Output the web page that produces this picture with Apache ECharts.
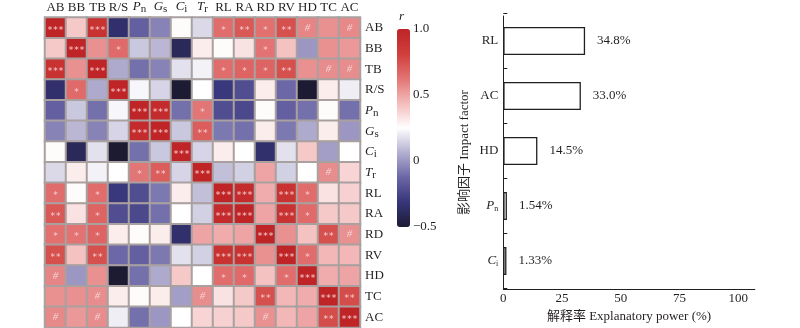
<!DOCTYPE html>
<html>
<head>
<meta charset="utf-8">
<script src="https://cdn.jsdelivr.net/npm/echarts@6/dist/echarts.min.js"></script>
<style>
  html, body { margin: 0; padding: 0; background: #fff; }
  #chart { width: 800px; height: 328px; }
</style>
</head>
<body>
<div id="chart"></div>
<script>
// Trait names (rows and columns of the correlation matrix)
const factors = ['AB', 'BB', 'TB', 'R/S', 'Pn', 'Gs', 'Ci', 'Tr', 'RL', 'RA', 'RD', 'RV', 'HD', 'TC', 'AC'];

// Pearson r between traits, row by row in the order of `factors`
const corr = [
  [ 1.00,  0.40,  0.90, -0.35, -0.15, -0.05,  0.26,  0.16,  0.65,  0.72,  0.64,  0.75,  0.58,  0.55,  0.57],
  [ 0.40,  1.00,  0.55,  0.66,  0.12,  0.08, -0.40,  0.30,  0.26,  0.33,  0.63,  0.42,  0.00,  0.55,  0.53],
  [ 0.90,  0.55,  1.00,  0.05, -0.10, -0.05,  0.18,  0.22,  0.65,  0.68,  0.68,  0.75,  0.55,  0.56,  0.56],
  [-0.35,  0.66,  0.05,  1.00,  0.23,  0.15, -0.50,  0.25, -0.30, -0.22,  0.30, -0.12, -0.50,  0.30,  0.21],
  [-0.15,  0.12, -0.10,  0.23,  1.00,  0.95, -0.10,  0.62, -0.22, -0.24,  0.26, -0.15, -0.10,  0.26, -0.10],
  [-0.05,  0.08, -0.05,  0.15,  0.95,  1.00,  0.12,  0.70, -0.08, -0.10,  0.30, -0.08,  0.05,  0.30,  0.00],
  [ 0.26, -0.40,  0.18, -0.50, -0.10,  0.12,  1.00,  0.15,  0.30,  0.25, -0.35,  0.18,  0.40,  0.02,  0.25],
  [ 0.16,  0.30,  0.22,  0.25,  0.62,  0.70,  0.15,  1.00,  0.10,  0.14,  0.50,  0.14,  0.25,  0.56,  0.37],
  [ 0.65,  0.26,  0.65, -0.30, -0.22, -0.08,  0.30,  0.10,  1.00,  0.95,  0.48,  0.90,  0.65,  0.33,  0.38],
  [ 0.72,  0.33,  0.68, -0.22, -0.24, -0.10,  0.25,  0.14,  0.95,  1.00,  0.50,  0.90,  0.66,  0.40,  0.40],
  [ 0.64,  0.63,  0.68,  0.30,  0.26,  0.30, -0.35,  0.50,  0.48,  0.50,  1.00,  0.55,  0.42,  0.75,  0.55],
  [ 0.75,  0.42,  0.75, -0.12, -0.15, -0.08,  0.18,  0.14,  0.90,  0.90,  0.55,  1.00,  0.65,  0.45,  0.45],
  [ 0.58,  0.00,  0.55, -0.50, -0.10,  0.05,  0.40,  0.25,  0.65,  0.66,  0.42,  0.65,  1.00,  0.48,  0.50],
  [ 0.55,  0.55,  0.56,  0.30,  0.26,  0.30,  0.02,  0.56,  0.33,  0.40,  0.75,  0.45,  0.48,  1.00,  0.76],
  [ 0.57,  0.53,  0.56,  0.21, -0.10,  0.00,  0.25,  0.37,  0.38,  0.40,  0.55,  0.45,  0.50,  0.76,  1.00]
];

// Significance marks for each cell (same layout as `corr`)
const sig = [
  ['***', '', '***', '', '', '', '', '', '*', '**', '*', '**', '#', '', '#'],
  ['', '***', '', '*', '', '', '', '', '', '', '*', '', '', '', ''],
  ['***', '', '***', '', '', '', '', '', '*', '*', '*', '**', '', '#', '#'],
  ['', '*', '', '***', '', '', '', '', '', '', '', '', '', '', ''],
  ['', '', '', '', '***', '***', '', '*', '', '', '', '', '', '', ''],
  ['', '', '', '', '***', '***', '', '**', '', '', '', '', '', '', ''],
  ['', '', '', '', '', '', '***', '', '', '', '', '', '', '', ''],
  ['', '', '', '', '*', '**', '', '***', '', '', '', '', '', '#', ''],
  ['*', '', '*', '', '', '', '', '', '***', '***', '', '***', '*', '', ''],
  ['**', '', '*', '', '', '', '', '', '***', '***', '', '***', '*', '', ''],
  ['*', '*', '*', '', '', '', '', '', '', '', '***', '', '', '**', '#'],
  ['**', '', '**', '', '', '', '', '', '***', '***', '', '***', '*', '', ''],
  ['#', '', '', '', '', '', '', '', '*', '*', '', '*', '***', '', ''],
  ['', '', '#', '', '', '', '', '#', '', '', '**', '', '', '***', '**'],
  ['#', '', '#', '', '', '', '', '', '', '', '#', '', '', '**', '***']
];

// Explanatory power of the leading impact factors (%)
const impactFactors = ['RL', 'AC', 'HD', 'Pn', 'Ci'];
const explanatoryPower = [34.8, 33.0, 14.5, 1.54, 1.33];

// Axis ranges and ticks
const powerTicks = [0, 25, 50, 75, 100];
const colorbarTicks = [-0.5, 0, 0.5, 1.0];

const SERIF = "'Liberation Serif', 'Times New Roman', 'Noto Sans CJK SC', serif";
const INK = '#231f20';

// Names with a subscript are written as italic letter + small roman letter
const subscripted = { Pn: ['P', 'n'], Gs: ['G', 's'], Ci: ['C', 'i'], Tr: ['T', 'r'] };
function richName(name) {
  const s = subscripted[name];
  return s ? '{it|' + s[0] + '}{sub|' + s[1] + '}' : name;
}
function nameRich(size, subSize, drop) {
  return {
    it: { fontFamily: SERIF, fontStyle: 'italic', fontSize: size, color: INK },
    sub: { fontFamily: SERIF, fontSize: subSize, color: INK, padding: [drop, 0, 0, 0] }
  };
}

const heatData = [];
corr.forEach((row, r) => row.forEach((v, c) => heatData.push([c, r, v])));

const chart = echarts.init(document.getElementById('chart'), null, { renderer: 'canvas' });

chart.setOption({
  animation: false,
  backgroundColor: '#fff',
  title: {
    text: 'r',
    left: 399, top: 10, padding: 0,
    textStyle: { fontFamily: SERIF, fontStyle: 'italic', fontWeight: 'normal', fontSize: 13, color: INK }
  },
  grid: [
    // correlation heatmap
    { left: 45, top: 16.5, width: 315, height: 311 },
    // bars
    { left: 503.3, right: 45.2, top: 13.5, height: 275 },
    // visible frame of the bar panel
    { left: 503.3, right: 45.2, top: 16, bottom: 33 },
    // colour bar scale
    { left: 397, top: 29, width: 13, height: 198 }
  ],
  xAxis: [
    {
      gridIndex: 0, type: 'category', data: factors, position: 'top',
      axisLine: { show: false }, axisTick: { show: false }, splitLine: { show: false },
      axisLabel: {
        margin: 3, interval: 0, fontFamily: SERIF, fontSize: 13, color: INK,
        formatter: richName, rich: nameRich(13, 11, 5)
      }
    },
    {
      gridIndex: 1, type: 'value', min: 0, max: 107, show: false
    },
    {
      gridIndex: 2, type: 'value', min: 0, max: 107, interval: 25,
      axisLine: { show: true, lineStyle: { color: INK, width: 1 } },
      axisTick: { show: false },
      splitLine: { show: false },
      axisLabel: {
        margin: 3, fontFamily: SERIF, fontSize: 13, color: INK, showMaxLabel: false,
        formatter: v => (powerTicks.includes(v) ? String(v) : '')
      },
      name: '解释率 Explanatory power (%)',
      nameLocation: 'middle', nameGap: 20,
      nameTextStyle: { fontFamily: SERIF, fontSize: 13, color: INK }
    },
    {
      gridIndex: 3, type: 'value', min: 0, max: 1, show: false
    }
  ],
  yAxis: [
    {
      gridIndex: 0, type: 'category', data: factors, inverse: true, position: 'right',
      axisLine: { show: false }, axisTick: { show: false }, splitLine: { show: false },
      axisLabel: {
        margin: 5, interval: 0, fontFamily: SERIF, fontSize: 13, color: INK,
        formatter: richName, rich: nameRich(13, 11, 5)
      }
    },
    {
      gridIndex: 1, type: 'category', data: impactFactors, inverse: true,
      axisLine: { show: false },
      axisTick: { show: true, inside: true, length: 4, lineStyle: { color: INK } },
      splitLine: { show: false },
      axisLabel: {
        margin: 5, fontFamily: SERIF, fontSize: 13, color: INK,
        formatter: richName, rich: nameRich(13, 8, 6)
      }
    },
    {
      gridIndex: 2, type: 'value', min: 0, max: 1,
      axisLine: { show: true, lineStyle: { color: INK, width: 1 } },
      axisTick: { show: false }, axisLabel: { show: false }, splitLine: { show: false },
      name: '影响因子 Impact factor',
      nameLocation: 'middle', nameGap: 32, nameRotate: 90,
      nameTextStyle: { fontFamily: SERIF, fontSize: 13, color: INK }
    },
    {
      gridIndex: 3, type: 'value', position: 'right',
      min: colorbarTicks[0], max: colorbarTicks[colorbarTicks.length - 1], interval: 0.5,
      axisLine: { show: false }, axisTick: { show: false }, splitLine: { show: false },
      axisLabel: {
        margin: 3, fontFamily: SERIF, fontSize: 13, color: INK,
        formatter: v => (v === 1 ? '1.0' : v < 0 ? '\u2212' + Math.abs(v) : String(v))
      }
    }
  ],
  visualMap: {
    type: 'continuous',
    seriesIndex: 0, dimension: 2,
    min: -0.5, max: 1.0,
    calculable: false, realtime: false,
    left: 397, top: 29, padding: 0,
    itemWidth: 13, itemHeight: 198,
    showLabel: false,
    inRange: {
      color: ['#1c1b33', '#37357a', '#6a66a6', '#b3afd0', '#ffffff',
              '#f4bcbc', '#e27474', '#d03e3b', '#bf2426']
    }
  },
  series: [
    {
      type: 'heatmap',
      xAxisIndex: 0, yAxisIndex: 0,
      data: heatData,
      itemStyle: { borderColor: '#a9a0a0', borderWidth: 2 },
      emphasis: { disabled: true },
      label: {
        show: true,
        formatter: p => {
          const s = sig[p.data[1]][p.data[0]];
          if (!s) return '';
          return s === '#' ? '{h|#}' : '{a|' + s.split('').join('\u200a') + '}';
        },
        rich: {
          a: { fontFamily: "'DejaVu Sans', sans-serif", fontSize: 9, color: '#f6d2d2', padding: [5, 0, 0, 0] },
          h: { fontFamily: SERIF, fontStyle: 'italic', fontSize: 11, color: '#f6d2d2' }
        }
      }
    },
    {
      type: 'bar',
      xAxisIndex: 1, yAxisIndex: 1,
      data: explanatoryPower,
      barWidth: 28,
      itemStyle: { color: '#ffffff', borderColor: INK, borderWidth: 1.3 },
      label: {
        show: true, position: 'right',
        distance: 12,
        fontFamily: SERIF, fontSize: 13, color: INK,
        formatter: p => (p.value >= 10 ? p.value.toFixed(1) : p.value.toFixed(2)) + '%'
      }
    }
  ]
});
</script>
</body>
</html>
